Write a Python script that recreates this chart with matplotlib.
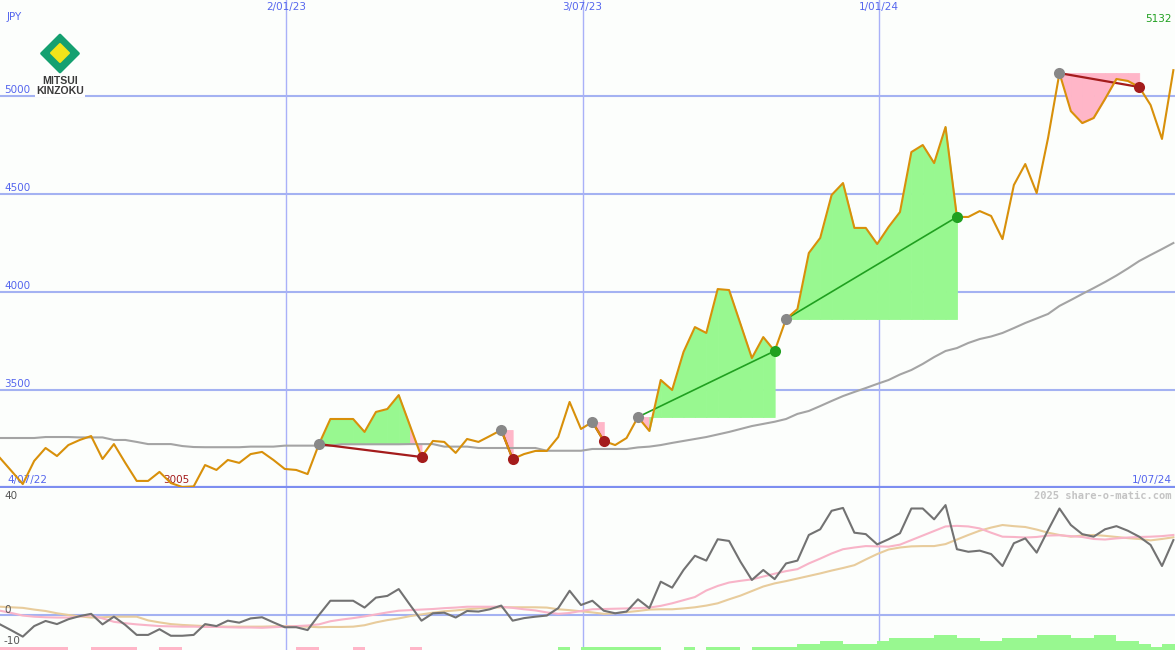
import pandas as pd
import matplotlib
matplotlib.use('Agg')
import matplotlib.pyplot as plt
from matplotlib.patches import Polygon

# weekly closing price, JPY
price = [3153, 3087, 3020, 3138, 3204, 3163, 3219, 3245, 3265, 3148,
         3224, 3128, 3036, 3036, 3082, 3025, 3005, 3008, 3117, 3092,
         3143, 3128, 3173, 3184, 3143, 3097, 3092, 3071, 3224, 3352,
         3352, 3352, 3286, 3388, 3403, 3474, 3316, 3158, 3240, 3235,
         3179, 3250, 3235, 3265, 3296, 3148, 3173, 3189, 3189, 3260,
         3439, 3301, 3337, 3240, 3219, 3255, 3362, 3291, 3551, 3500,
         3694, 3821, 3791, 4015, 4010, 3837, 3663, 3770, 3699, 3862,
         3913, 4199, 4276, 4495, 4556, 4327, 4327, 4245, 4332, 4408,
         4714, 4750, 4658, 4842, 4383, 4383, 4413, 4388, 4270, 4546,
         4653, 4505, 4786, 5117, 4923, 4862, 4888, 4985, 5087, 5077,
         5046, 4954, 4781, 5132]

# long moving average (grey)
moving_avg = [3255, 3255, 3255, 3255, 3260, 3260, 3260, 3258, 3258, 3258,
              3245, 3245, 3235, 3224, 3224, 3224, 3214, 3209, 3208, 3208,
              3208, 3208, 3211, 3211, 3211, 3216, 3216, 3216, 3216, 3216,
              3223, 3223, 3223, 3223, 3223, 3223, 3224, 3224, 3224, 3211,
              3211, 3211, 3204, 3204, 3204, 3204, 3204, 3204, 3190, 3190,
              3190, 3190, 3199, 3199, 3199, 3199, 3207, 3211, 3219, 3230,
              3240, 3250, 3260, 3273, 3286, 3301, 3316, 3327, 3338, 3352,
              3378, 3393, 3418, 3444, 3469, 3490, 3510, 3531, 3551, 3579,
              3602, 3633, 3668, 3699, 3714, 3740, 3760, 3773, 3791, 3816,
              3842, 3865, 3888, 3929, 3959, 3990, 4020, 4051, 4084, 4120,
              4158, 4189, 4219, 4250]

# lower panel: momentum and its two smoothings
momentum = [-3.3, -5.4, -7.6, -3.9, -2.1, -3.2, -1.5, -0.4, 0.4, -3.3,
            -0.6, -3.5, -7.0, -7.0, -5.0, -7.3, -7.3, -7.0, -3.2, -3.9,
            -2.0, -2.7, -1.2, -0.8, -2.6, -4.3, -4.3, -5.3, 0.0, 5.0,
            5.0, 5.0, 2.6, 6.1, 6.7, 9.1, 3.5, -2.0, 0.6, 0.8,
            -0.9, 1.4, 1.2, 2.0, 3.3, -2.0, -1.1, -0.6, -0.2, 2.4,
            8.5, 3.5, 5.0, 1.5, 0.6, 1.2, 5.5, 2.4, 11.7, 9.6,
            15.8, 20.8, 19.1, 26.6, 26.0, 18.7, 12.3, 15.8, 12.6, 18.1,
            19.1, 28.1, 30.1, 36.6, 37.6, 28.9, 28.4, 24.8, 26.6, 28.7,
            37.4, 37.4, 33.6, 38.6, 23.1, 22.2, 22.6, 21.4, 17.2, 25.2,
            26.9, 21.9, 29.8, 37.4, 31.6, 28.4, 27.5, 30.1, 31.2, 29.6,
            27.5, 24.6, 17.2, 26.3]

signal_fast = [1.5, 0.7, -0.2, -0.6, -0.8, -0.9, -0.9, -0.5, -0.1, -1.2,
               -2.4, -2.9, -3.3, -3.6, -3.9, -4.0, -4.1, -4.1, -4.2, -4.2,
               -4.3, -4.4, -4.4, -4.5, -4.3, -4.1, -3.9, -3.7, -3.3, -2.2,
               -1.6, -1.1, -0.5, 0.2, 0.9, 1.5, 1.7, 1.9, 2.1, 2.4,
               2.6, 2.9, 2.9, 2.9, 2.9, 2.5, 2.0, 1.6, 0.9, 0.4,
               0.7, 1.4, 2.0, 2.1, 2.2, 2.3, 2.4, 2.6, 3.2, 4.1,
               5.2, 6.3, 8.6, 10.2, 11.4, 12.0, 12.5, 13.5, 14.5, 15.4,
               16.1, 18.1, 19.8, 21.6, 23.1, 23.7, 24.2, 24.1, 24.0, 24.7,
               26.3, 27.9, 29.5, 31.1, 31.3, 31.1, 30.4, 28.9, 27.5, 27.4,
               27.2, 27.4, 27.9, 28.0, 27.7, 27.4, 26.7, 26.5, 26.9, 27.2,
               27.4, 27.5, 27.7, 28.1]

signal_slow = [2.9, 2.7, 2.5, 1.9, 1.4, 0.6, 0.0, -0.5, -0.9, -0.8,
               -0.6, -0.6, -0.6, -1.9, -2.6, -3.2, -3.5, -3.7, -3.9, -4.0,
               -4.1, -4.1, -4.1, -4.1, -4.0, -3.9, -4.0, -4.1, -4.3, -4.2,
               -4.2, -4.1, -3.6, -2.6, -1.8, -1.2, -0.4, 0.2, 0.8, 1.3,
               1.6, 2.0, 2.3, 2.6, 2.7, 2.7, 2.7, 2.7, 2.6, 2.0,
               1.7, 1.3, 0.9, 0.4, 0.6, 1.0, 1.4, 1.9, 2.0, 2.0,
               2.3, 2.7, 3.3, 4.1, 5.5, 6.8, 8.4, 10.0, 11.1, 11.9,
               12.8, 13.7, 14.6, 15.6, 16.5, 17.5, 19.5, 21.4, 23.0, 23.7,
               24.1, 24.2, 24.2, 24.9, 26.5, 28.1, 29.6, 30.7, 31.6, 31.2,
               30.9, 30.0, 28.9, 28.1, 27.5, 27.9, 28.1, 27.8, 27.4, 27.0,
               26.7, 26.2, 26.7, 27.3]

# trend strength blocks along the bottom (negative = pink, positive = green)
trend = [-1, -1, -1, -1, -1, -1, 0, 0, -1, -1,
         -1, -1, 0, 0, -1, -1, 0, 0, 0, 0,
         0, 0, 0, 0, 0, 0, -1, -1, 0, 0,
         0, -1, 0, 0, 0, 0, -1, 0, 0, 0,
         0, 0, 0, 0, 0, 0, 0, 0, 0, 1,
         0, 1, 1, 1, 1, 1, 1, 1, 0, 0,
         1, 0, 1, 1, 1, 0, 1, 1, 1, 1,
         2, 2, 3, 3, 2, 2, 2, 3, 4, 4,
         4, 4, 5, 5, 4, 4, 3, 3, 4, 4,
         4, 5, 5, 5, 4, 4, 5, 5, 3, 3,
         2, 1, 2, 2]

# (entry week, exit week)
trades = [(28, 37), (44, 45), (52, 53), (56, 68), (69, 84), (93, 100)]

start_date = '2022-07-10'
end_date = '2024-07-01'
start_label = '4/07/22'
end_label = '1/07/24'
date_ticks = ['2023-01-02', '2023-07-03', '2024-01-01']
date_labels = ['2/01/23', '3/07/23', '1/01/24']
price_ticks = [3500, 4000, 4500, 5000]
lower_ticks = [40, 0, -10]

BG = '#fcfefc'
BLUE_TXT = '#5566ee'
GRID = '#a4b2f2'
VLINE = '#a9b1f8'
ORANGE = '#d8900a'
GREEN_FILL = '#98f890'
PINK_FILL = '#ffb6c8'
LOSS = '#a41c1c'
GAIN = '#20a020'


def draw_logo(fig):
    W, H = 1175, 650
    ax = fig.add_axes([33 / W, 1 - 98 / H, 54 / W, 68 / H])
    ax.set_xlim(33, 87)
    ax.set_ylim(98, 30)
    ax.axis('off')
    ax.add_patch(Polygon([(60, 35), (78.5, 53.5), (60, 72), (41.5, 53.5)],
                         closed=True, fc='#14a070', ec='#14a070', lw=2, joinstyle='round'))
    ax.add_patch(Polygon([(60, 44), (69, 53), (60, 62), (51, 53)],
                         closed=True, fc='#f2e41a', ec='#f2e41a', lw=1.5, joinstyle='round'))
    ax.text(60, 80.5, 'MITSUI', ha='center', va='center', fontsize=7.6,
            fontweight='bold', color='#3a3a3a', family='Liberation Sans')
    ax.text(60, 91, 'KINZOKU', ha='center', va='center', fontsize=7.6,
            fontweight='bold', color='#3a3a3a', family='Liberation Sans',
            bbox=dict(fc='white', ec='none', pad=0.6))


def label(ax, text, xy, coords, offset, color=BLUE_TXT, **kw):
    ax.annotate(text, xy=xy, xycoords=coords, xytext=offset,
                textcoords='offset pixels', fontsize=7.5, color=color, **kw)


def main():
    dates = pd.date_range(start_date, periods=len(price), freq='7D')
    x0, x1 = pd.Timestamp(start_date), pd.Timestamp(end_date)
    ticks = [pd.Timestamp(d) for d in date_ticks]

    fig = plt.figure(figsize=(11.75, 6.5), dpi=100, facecolor=BG)
    ax = fig.add_axes([0, 1 - 487 / 650, 1, 487 / 650], facecolor=BG)
    low = fig.add_axes([0, 0, 1, 162 / 650], facecolor=BG)

    # ---- price panel ----
    ax.set_xlim(x0, x1)
    ax.set_ylim(min(price), 5490)
    for v in price_ticks:
        ax.axhline(v, color=GRID, lw=1.5, zorder=1)
        label(ax, str(v), (0, v), ('axes fraction', 'data'), (4, 1), va='bottom', ha='left')
    for t, lab in zip(ticks, date_labels):
        ax.axvline(t, color=VLINE, lw=1, zorder=1)
        label(ax, lab, (t, 1), ('data', 'axes fraction'), (0, -2), ha='center', va='top')

    # trade fills, segment by segment
    for entry, exit_ in trades:
        level = price[entry]
        for k in range(entry, exit_):
            col = GREEN_FILL if price[k + 1] >= level else PINK_FILL
            ax.fill_between(dates[k:k + 2], level, price[k:k + 2],
                            facecolor=col, edgecolor=col, lw=0.6, zorder=2)

    ax.plot(dates, moving_avg, color='#a4a4a4', lw=1.5, zorder=3)

    for entry, exit_ in trades:
        col = GAIN if price[exit_] > price[entry] else LOSS
        ax.plot([dates[entry], dates[exit_]], [price[entry], price[exit_]],
                color=col, lw=1.6 if col == LOSS else 1.2, zorder=4)

    ax.plot(dates, price, color=ORANGE, lw=1.5, zorder=5)

    for entry, exit_ in trades:
        col = GAIN if price[exit_] > price[entry] else LOSS
        ax.plot(dates[entry], price[entry], 'o', ms=8, color='#888888', mec='none', zorder=6)
        ax.plot(dates[exit_], price[exit_], 'o', ms=8, color=col, mec='none', zorder=6)

    lo = price.index(min(price))
    label(ax, str(min(price)), (dates[lo], min(price)), 'data', (-6, 2),
          color=LOSS, ha='center', va='bottom')
    label(ax, str(price[-1]), (1, 1), 'axes fraction', (-3, -14),
          color=GAIN, ha='right', va='top')
    label(ax, 'JPY', (0, 1), 'axes fraction', (7, -12), ha='left', va='top')
    label(ax, start_label, (0, 0), 'axes fraction', (7, 2), ha='left', va='bottom')
    label(ax, end_label, (1, 0), 'axes fraction', (-3, 2), ha='right', va='bottom')

    for s in ('top', 'left', 'right'):
        ax.spines[s].set_visible(False)
    ax.spines['bottom'].set_color('#7d8ef0')
    ax.spines['bottom'].set_linewidth(1.6)
    ax.set_xticks([])
    ax.set_yticks([])

    # ---- indicator panel ----
    low.set_xlim(x0, x1)
    low.set_ylim(-12.3, 44.6)
    low.axhline(0, color=GRID, lw=1.5, zorder=1)
    for t in ticks:
        low.axvline(t, color=VLINE, lw=1, zorder=1)

    bars = low.twinx()
    bars.set_ylim(0, 162 / 3)
    bars.bar(dates, [abs(v) for v in trend], width=7, align='edge',
             color=[GREEN_FILL if v > 0 else PINK_FILL for v in trend], lw=0)
    bars.axis('off')

    low.plot(dates, signal_slow, color='#e8cc9c', lw=1.5, zorder=3)
    low.plot(dates, signal_fast, color='#f8b4c8', lw=1.5, zorder=3)
    low.plot(dates, momentum, color='#727272', lw=1.5, zorder=4)

    for v, dy in zip(lower_ticks, (0, 0, -3)):
        label(low, str(v), (0, v), ('axes fraction', 'data'), (4, dy),
              color='#555555', ha='left', va='bottom')
    label(low, '2025 share-o-matic.com', (1, 1), 'axes fraction', (-3, -3),
          color='#c4c4c4', fontweight='bold', family='DejaVu Sans Mono',
          ha='right', va='top')
    for s in low.spines.values():
        s.set_visible(False)
    low.set_xticks([])
    low.set_yticks([])

    draw_logo(fig)
    fig.savefig('out.png', dpi=100, facecolor=BG)


if __name__ == "__main__":
    main()
